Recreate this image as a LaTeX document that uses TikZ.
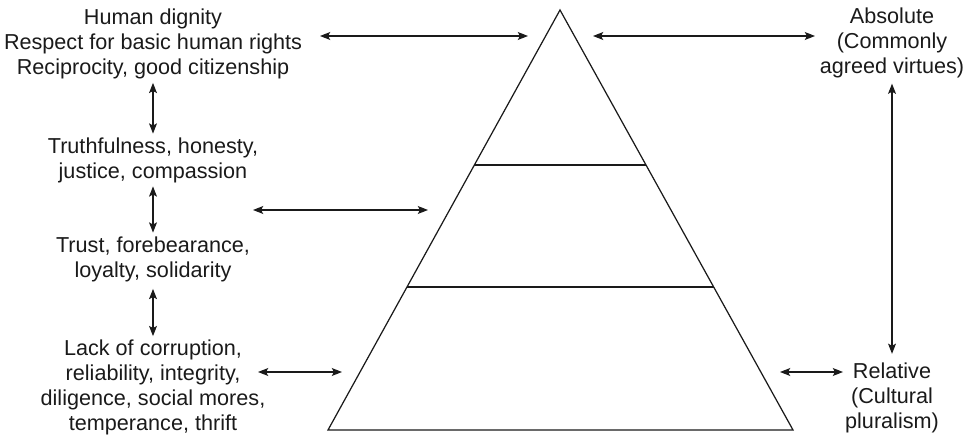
\documentclass[tikz,border=0pt]{standalone}
\usepackage{fontspec}
\setmainfont{Liberation Sans}
\usetikzlibrary{arrows.meta,positioning,calc}
\definecolor{pyrline}{HTML}{1A1A1A}

\tikzset{
  virtue/.style={align=center, inner sep=2pt, text=pyrline,
                 font=\fontsize{12.3}{14.2}\selectfont},
  twoway/.style={{Stealth[length=5.8pt,width=4.5pt,inset=1.2pt]}-{Stealth[length=5.8pt,width=4.5pt,inset=1.2pt]},
                 line width=0.65pt, draw=pyrline},
}

\begin{document}
\begin{tikzpicture}
\useasboundingbox (0,0) rectangle (19.44,8.72);

% pyramid
\coordinate (apex) at (11.2, 8.52);
\coordinate (bl)   at (6.56, 0.12);
\coordinate (br)   at (15.86,0.12);
\draw[pyrline, line width=0.7pt, line join=miter] (apex) -- (bl) -- (br) -- cycle;
\draw[pyrline, line width=0.7pt] ($(apex)!0.369!(bl)$) -- ($(apex)!0.369!(br)$);
\draw[pyrline, line width=0.7pt] ($(apex)!0.6595!(bl)$) -- ($(apex)!0.6595!(br)$);

% left column
\node[virtue] (dignity) at (3.06, 7.84) {Human dignity\\Respect for basic human rights\\Reciprocity, good citizenship};
\node[virtue] (truth)   at (3.06, 5.52) {Truthfulness, honesty,\\justice, compassion};
\node[virtue] (trust)   at (3.06, 3.54) {Trust, forebearance,\\loyalty, solidarity};
\node[virtue] (lack)    at (3.06, 0.97) {Lack of corruption,\\reliability, integrity,\\diligence, social mores,\\temperance, thrift};

% right column
\node[virtue] (absolute) at (17.84, 7.86) {Absolute\\(Commonly\\agreed virtues)};
\node[virtue] (relative) at (17.84, 0.76) {Relative\\(Cultural\\pluralism)};

\draw[twoway] (dignity.south) -- (truth.north);
\draw[twoway] (truth.south)   -- (trust.north);
\draw[twoway, shorten <=2pt] (trust.south) -- (lack.north);
\draw[twoway, shorten <=1pt, shorten >=3pt] (absolute.south) -- (relative.north);

% arrows to the pyramid
\coordinate (tl1) at (6.4, 8.0);   \coordinate (tl2) at (10.56,8.0);
\coordinate (tr1) at (11.86,8.0);  \coordinate (tr2) at (16.3, 8.0);
\coordinate (ml1) at (5.06,4.52);  \coordinate (ml2) at (8.56, 4.52);
\coordinate (bl1) at (5.16,1.28);  \coordinate (bl2) at (6.84, 1.28);
\coordinate (br1) at (15.6,1.28);  \coordinate (br2) at (16.86,1.28);
\draw[twoway] (tl1) -- (tl2);
\draw[twoway] (tr1) -- (tr2);
\draw[twoway] (ml1) -- (ml2);
\draw[twoway] (bl1) -- (bl2);
\draw[twoway] (br1) -- (br2);
\end{tikzpicture}
\end{document}
